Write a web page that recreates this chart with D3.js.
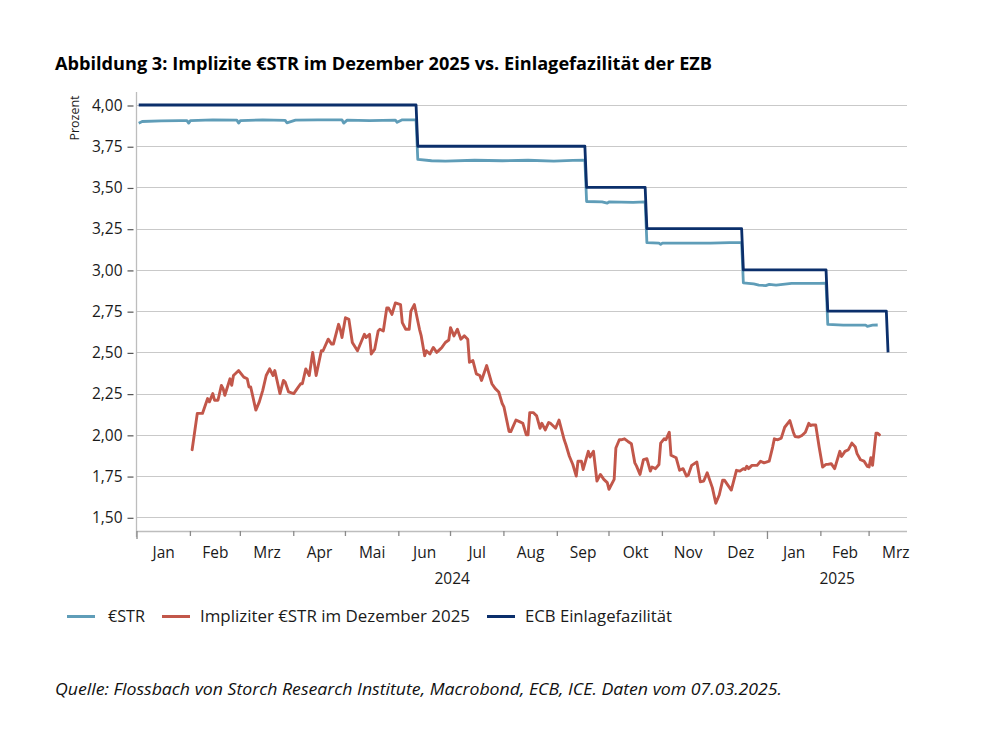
<!DOCTYPE html>
<html><head><meta charset="utf-8">
<script src="https://cdn.jsdelivr.net/npm/d3@7"></script>
<style>
html,body{margin:0;padding:0;background:#fff;}
svg{display:block;font-family:"Open Sans",sans-serif;}
</style></head>
<body>
<svg id="chart" width="981" height="755"></svg>
<script>
// ---------- DATA ----------
const titleText = "Abbildung 3: Implizite €STR im Dezember 2025 vs. Einlagefazilität der EZB";
const sourceText = "Quelle: Flossbach von Storch Research Institute, Macrobond, ECB, ICE. Daten vom 07.03.2025.";
const yAxisTitle = "Prozent";
const seriesNames = ["€STR", "Impliziter €STR im Dezember 2025", "ECB Einlagefazilität"];
const monthLabels = ["Jan","Feb","Mrz","Apr","Mai","Jun","Jul","Aug","Sep","Okt","Nov","Dez","Jan","Feb","Mrz"];
const yearLabels = ["2024","2025"];
const yTickValues = [1.5,1.75,2.0,2.25,2.5,2.75,3.0,3.25,3.5,3.75,4.0];

const ecbData = [
 ["2024-01-02",4.00],["2024-06-11",4.00],["2024-06-12",3.75],["2024-09-17",3.75],
 ["2024-09-18",3.50],["2024-10-22",3.50],["2024-10-23",3.25],["2024-12-17",3.25],
 ["2024-12-18",3.00],["2025-02-04",3.00],["2025-02-05",2.75],["2025-03-11",2.75],
 ["2025-03-12",2.50]
];

const estrData = [
 ["2024-01-02",3.89],["2024-01-04",3.90],["2024-01-15",3.904],["2024-01-26",3.905],["2024-01-30",3.905],["2024-01-31",3.89],
 ["2024-02-01",3.905],["2024-02-14",3.91],["2024-02-28",3.908],["2024-02-29",3.89],["2024-03-01",3.905],
 ["2024-03-14",3.91],["2024-03-27",3.907],["2024-03-28",3.892],["2024-04-02",3.908],["2024-04-15",3.91],
 ["2024-04-29",3.91],["2024-04-30",3.89],["2024-05-02",3.908],["2024-05-15",3.905],["2024-05-30",3.908],
 ["2024-05-31",3.895],["2024-06-03",3.91],["2024-06-11",3.91],
 ["2024-06-12",3.67],["2024-06-20",3.662],["2024-06-28",3.66],["2024-07-15",3.665],["2024-07-31",3.662],
 ["2024-08-15",3.665],["2024-08-30",3.66],["2024-09-10",3.664],["2024-09-17",3.665],
 ["2024-09-18",3.415],["2024-09-27",3.412],["2024-09-30",3.405],["2024-10-01",3.412],["2024-10-15",3.41],["2024-10-22",3.412],
 ["2024-10-23",3.165],["2024-10-30",3.162],["2024-10-31",3.155],["2024-11-01",3.162],["2024-11-15",3.162],
 ["2024-11-29",3.163],["2024-12-10",3.166],["2024-12-17",3.166],
 ["2024-12-18",2.922],["2024-12-24",2.915],["2024-12-27",2.908],["2024-12-31",2.905],["2025-01-02",2.912],
 ["2025-01-06",2.908],["2025-01-15",2.918],["2025-01-31",2.918],["2025-02-04",2.92],
 ["2025-02-05",2.67],["2025-02-14",2.665],["2025-02-27",2.665],["2025-02-28",2.658],["2025-03-03",2.665],["2025-03-06",2.666]
];

const impliedData = [
 ["2024-02-02",1.91],["2024-02-05",2.13],["2024-02-07",2.13],["2024-02-08",2.13],["2024-02-11",2.22],
 ["2024-02-12",2.20],["2024-02-14",2.25],["2024-02-15",2.21],["2024-02-17",2.21],["2024-02-19",2.30],
 ["2024-02-20",2.28],["2024-02-21",2.24],["2024-02-24",2.34],["2024-02-25",2.30],["2024-02-26",2.36],
 ["2024-02-29",2.39],["2024-03-03",2.35],["2024-03-05",2.34],["2024-03-06",2.29],["2024-03-07",2.29],
 ["2024-03-10",2.15],["2024-03-12",2.20],["2024-03-14",2.27],["2024-03-16",2.36],["2024-03-18",2.40],
 ["2024-03-20",2.36],["2024-03-21",2.39],["2024-03-24",2.25],["2024-03-26",2.33],["2024-03-27",2.32],
 ["2024-03-29",2.26],["2024-04-01",2.25],["2024-04-03",2.28],["2024-04-05",2.31],["2024-04-06",2.31],
 ["2024-04-08",2.40],["2024-04-10",2.36],["2024-04-12",2.50],["2024-04-14",2.36],["2024-04-17",2.51],
 ["2024-04-18",2.51],["2024-04-21",2.58],["2024-04-23",2.55],["2024-04-24",2.55],["2024-04-27",2.67],
 ["2024-04-28",2.64],["2024-04-29",2.59],["2024-05-01",2.71],["2024-05-03",2.70],["2024-05-05",2.56],
 ["2024-05-08",2.51],["2024-05-10",2.56],["2024-05-12",2.61],["2024-05-13",2.59],["2024-05-15",2.61],
 ["2024-05-16",2.49],["2024-05-18",2.52],["2024-05-20",2.63],["2024-05-21",2.64],["2024-05-23",2.63],
 ["2024-05-25",2.77],["2024-05-26",2.77],["2024-05-28",2.73],["2024-05-30",2.80],["2024-06-02",2.79],
 ["2024-06-03",2.68],["2024-06-05",2.64],["2024-06-07",2.64],["2024-06-08",2.75],["2024-06-10",2.79],
 ["2024-06-13",2.64],["2024-06-14",2.60],["2024-06-16",2.48],["2024-06-17",2.51],["2024-06-19",2.49],
 ["2024-06-21",2.53],["2024-06-23",2.50],["2024-06-25",2.52],["2024-06-26",2.53],["2024-06-28",2.56],
 ["2024-06-30",2.575],["2024-07-01",2.65],["2024-07-03",2.60],["2024-07-05",2.64],["2024-07-07",2.58],
 ["2024-07-09",2.60],["2024-07-11",2.58],["2024-07-12",2.44],["2024-07-14",2.45],["2024-07-16",2.37],
 ["2024-07-18",2.36],["2024-07-19",2.33],["2024-07-22",2.42],["2024-07-25",2.31],["2024-07-27",2.28],
 ["2024-07-29",2.26],["2024-07-31",2.19],["2024-08-01",2.17],["2024-08-04",2.02],["2024-08-05",2.02],
 ["2024-08-08",2.09],["2024-08-10",2.08],["2024-08-12",2.07],["2024-08-14",2.00],["2024-08-15",2.00],
 ["2024-08-16",2.135],["2024-08-18",2.135],["2024-08-20",2.115],["2024-08-22",2.04],["2024-08-23",2.07],
 ["2024-08-25",2.03],["2024-08-27",2.075],["2024-08-28",2.07],["2024-08-31",2.04],["2024-09-02",2.09],
 ["2024-09-05",1.97],["2024-09-06",1.94],["2024-09-08",1.87],["2024-09-10",1.82],["2024-09-12",1.75],
 ["2024-09-13",1.84],["2024-09-15",1.84],["2024-09-16",1.79],["2024-09-19",1.90],["2024-09-20",1.865],
 ["2024-09-22",1.90],["2024-09-24",1.72],["2024-09-26",1.76],["2024-09-28",1.73],["2024-09-30",1.71],
 ["2024-10-01",1.67],["2024-10-04",1.73],["2024-10-05",1.92],["2024-10-07",1.97],["2024-10-08",1.97],
 ["2024-10-10",1.976],["2024-10-12",1.96],["2024-10-14",1.946],["2024-10-16",1.83],["2024-10-17",1.81],
 ["2024-10-19",1.76],["2024-10-21",1.85],["2024-10-23",1.855],["2024-10-25",1.78],["2024-10-26",1.805],
 ["2024-10-28",1.795],["2024-10-30",1.82],["2024-10-31",1.95],["2024-11-02",1.976],["2024-11-03",1.97],
 ["2024-11-05",2.016],["2024-11-06",1.876],["2024-11-09",1.861],["2024-11-11",1.785],["2024-11-13",1.795],
 ["2024-11-15",1.75],["2024-11-16",1.755],["2024-11-18",1.815],["2024-11-21",1.835],["2024-11-23",1.715],
 ["2024-11-25",1.72],["2024-11-27",1.77],["2024-11-30",1.68],["2024-12-02",1.585],["2024-12-04",1.635],
 ["2024-12-06",1.725],["2024-12-07",1.725],["2024-12-09",1.695],["2024-12-11",1.665],["2024-12-14",1.785],
 ["2024-12-16",1.78],["2024-12-18",1.795],["2024-12-19",1.79],["2024-12-20",1.81],["2024-12-21",1.795],
 ["2024-12-23",1.815],["2024-12-26",1.815],["2024-12-28",1.84],["2024-12-30",1.83],["2025-01-02",1.84],
 ["2025-01-04",1.926],["2025-01-05",1.976],["2025-01-07",1.97],["2025-01-09",1.98],["2025-01-11",2.046],
 ["2025-01-14",2.086],["2025-01-16",2.016],["2025-01-17",1.99],["2025-01-19",1.986],["2025-01-21",1.996],
 ["2025-01-23",2.016],["2025-01-25",2.07],["2025-01-26",2.056],["2025-01-27",2.06],["2025-01-29",2.06],
 ["2025-01-31",1.926],["2025-02-02",1.805],["2025-02-04",1.821],["2025-02-05",1.821],["2025-02-07",1.825],
 ["2025-02-09",1.795],["2025-02-12",1.90],["2025-02-13",1.869],["2025-02-15",1.90],["2025-02-17",1.91],
 ["2025-02-19",1.95],["2025-02-21",1.926],["2025-02-22",1.886],["2025-02-24",1.849],["2025-02-26",1.841],
 ["2025-02-28",1.809],["2025-03-01",1.805],["2025-03-02",1.861],["2025-03-03",1.815],["2025-03-05",2.01],
 ["2025-03-06",2.01],["2025-03-07",2.00]
];

// ---------- STYLE / LAYOUT ----------
const colors = {estr:"#5f9db8", implied:"#c2574a", ecb:"#0b2f6b"};
const L = {left:137, right:907, top:92, bottom:531};
const parse = d3.timeParse("%Y-%m-%d");
const svg = d3.select("#chart");
svg.append("rect").attr("width",981).attr("height",755).attr("fill","#fff");

const x = d3.scaleTime()
  .domain([parse("2024-01-01"), parse("2025-03-23")])
  .range([L.left, L.right]);
const y = d3.scaleLinear().domain([1.5, 4.0]).range([517.3, 105]);

// gridlines
svg.append("g").selectAll("line").data(yTickValues).join("line")
  .attr("x1", L.left).attr("x2", L.right)
  .attr("y1", d=>Math.round(y(d))+0.5).attr("y2", d=>Math.round(y(d))+0.5)
  .attr("stroke","#c9c9c9").attr("stroke-width",1.2);

// y axis (d3 axis, custom styled)
const fmtY = v => d3.format(".2f")(v).replace(".", ",");
const yAxis = svg.append("g").attr("transform",`translate(${L.left-3.5},0)`)
  .call(d3.axisLeft(y).tickValues(yTickValues).tickFormat(fmtY).tickSize(6).tickPadding(5));
yAxis.select(".domain").remove();
yAxis.selectAll(".tick line").attr("stroke","#555").attr("stroke-width",1.2)
  .attr("transform","translate(0,0.5)");
yAxis.selectAll(".tick text").attr("font-family","Open Sans").attr("font-size",15.5).attr("fill","#1a1a1a")
  .attr("dy","0.34em");
// left axis line
svg.append("line").attr("x1",L.left-0.5).attr("x2",L.left-0.5).attr("y1",L.top).attr("y2",L.bottom+6)
  .attr("stroke","#bdbdbd").attr("stroke-width",1.3);
// bottom axis line
svg.append("line").attr("x1",L.left-0.5).attr("x2",L.right).attr("y1",L.bottom+0.5).attr("y2",L.bottom+0.5)
  .attr("stroke","#bdbdbd").attr("stroke-width",1.3);

// month ticks
const monthStarts = d3.timeMonth.range(parse("2024-01-01"), parse("2025-03-23"));
svg.append("g").selectAll("line").data(monthStarts).join("line")
  .attr("x1", d=>x(d)).attr("x2", d=>x(d))
  .attr("y1", L.bottom).attr("y2", d=> d.getMonth()===0 ? L.bottom+8 : L.bottom+5)
  .attr("stroke","#8a8a8a").attr("stroke-width",1.3);
// month labels centered in month
svg.append("g").selectAll("text").data(monthStarts).join("text")
  .attr("x", (d,i)=> x(new Date(d.getTime() + (d3.timeMonth.offset(d,1)-d)/2)))
  .attr("y", 558)
  .attr("text-anchor","middle").attr("font-family","Open Sans").attr("font-size",15.5).attr("fill","#1a1a1a")
  .text((d,i)=>monthLabels[i]);
// year labels
const yearCenters = [
  x(new Date((parse("2024-01-01").getTime()+parse("2025-01-01").getTime())/2)),
  (x(parse("2025-01-01"))+L.right)/2
];
svg.append("g").selectAll("text").data(yearLabels).join("text")
  .attr("x",(d,i)=>yearCenters[i]).attr("y",584)
  .attr("text-anchor","middle").attr("font-family","Open Sans").attr("font-size",15.5).attr("fill","#1a1a1a")
  .text(d=>d);

// y axis title
svg.append("text").attr("transform","translate(79,118) rotate(-90)")
  .attr("text-anchor","middle").attr("font-family","Open Sans").attr("font-size",12.5).attr("fill","#1a1a1a")
  .text(yAxisTitle);

// lines
const line = d3.line().x(d=>x(parse(d[0]))).y(d=>y(d[1])).curve(d3.curveLinear);
svg.append("path").datum(estrData).attr("d",line).attr("fill","none")
  .attr("stroke",colors.estr).attr("stroke-width",2.8).attr("stroke-linejoin","round");
svg.append("path").datum(ecbData).attr("d",line).attr("fill","none")
  .attr("stroke",colors.ecb).attr("stroke-width",2.8).attr("stroke-linejoin","round");
svg.append("path").datum(impliedData).attr("d",line).attr("fill","none")
  .attr("stroke",colors.implied).attr("stroke-width",2.9).attr("stroke-linejoin","round").attr("stroke-linecap","round");

// title
svg.append("text").attr("x",55).attr("y",70)
  .attr("font-family","Open Sans").attr("font-weight",700).attr("font-size",17.5).attr("fill","#000")
  .attr("textLength",657).attr("lengthAdjust","spacingAndGlyphs")
  .text(titleText);

// legend
const legendItems = [
  {name:seriesNames[0], color:colors.estr, x0:67, tx:108, tw:37},
  {name:seriesNames[1], color:colors.implied, x0:162, tx:200, tw:270},
  {name:seriesNames[2], color:colors.ecb, x0:487, tx:525, tw:147}
];
const lg = svg.append("g");
legendItems.forEach(it=>{
  lg.append("line").attr("x1",it.x0).attr("x2",it.x0+28).attr("y1",616.5).attr("y2",616.5)
    .attr("stroke",it.color).attr("stroke-width",3);
  lg.append("text").attr("x",it.tx).attr("y",622)
    .attr("font-family","Open Sans").attr("font-size",16).attr("fill","#1a1a1a")
    .attr("textLength",it.tw).attr("lengthAdjust","spacingAndGlyphs").text(it.name);
});

// source
svg.append("text").attr("x",55).attr("y",695)
  .attr("font-family","Open Sans").attr("font-style","italic").attr("font-size",16).attr("fill","#111")
  .attr("textLength",727).attr("lengthAdjust","spacingAndGlyphs")
  .text(sourceText);
</script>
</body></html>
